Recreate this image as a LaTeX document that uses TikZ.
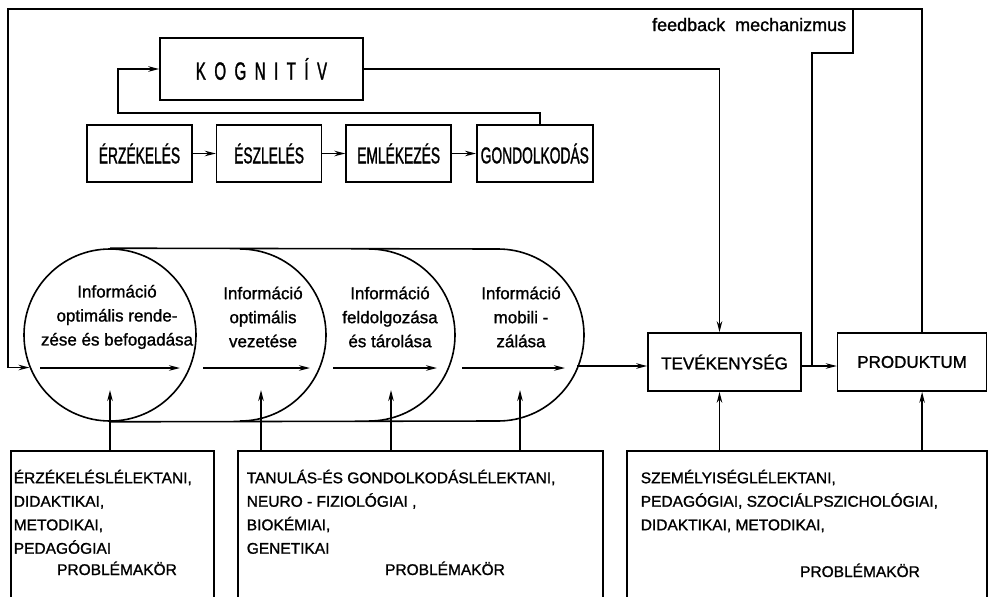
\documentclass[tikz,border=0pt]{standalone}
\usepackage{fontspec}
\setmainfont[FakeBold=1.2]{Liberation Sans}
\newfontfamily\handn[FakeStretch=0.6,FakeBold=1.2]{Liberation Sans}
\usetikzlibrary{positioning,calc}
\usetikzlibrary{arrows.meta}

\newcommand{\kg}{\hspace{8.5pt}}

\begin{document}
\begin{tikzpicture}[x=1pt,y=-1pt,
      line width=1.6pt,
      flow/.style = {-{Stealth[length=11pt,width=5.5pt]}},
      stage/.style = {draw, rectangle, inner sep=0pt, minimum width=105pt,
         minimum height=57pt, font=\handn\fontsize{23}{27}\selectfont},
      outbox/.style = {draw, rectangle, inner sep=0pt, minimum height=58pt,
         font=\fontsize{17}{20}\selectfont},
      field/.style = {draw, rectangle, inner sep=0pt, minimum height=170pt,
         anchor=north west},
      fieldtext/.style = {inner sep=0pt, anchor=north west, align=left,
         font=\fontsize{15.5}{23.5}\selectfont},
      info/.style = {inner sep=0pt, align=center,
         font=\fontsize{17}{24}\selectfont}
]

   \clip (0,0) rectangle (988,597);

   % kognitiv block
   \node[draw, inner sep=0pt, minimum width=203pt, minimum height=62pt,
      font=\handn\fontsize{25}{28}\selectfont] (kog) at (261.5,69)
      {K\kg O\kg G\kg N\kg I\kg T\kg Í\kg V};

   \node[stage]                                    (erz) at (139.5,153.5) {ÉRZÉKELÉS};
   \node[stage, right=23pt of erz]                 (esz) {ÉSZLELÉS};
   \node[stage, right=23pt of esz]                 (eml) {EMLÉKEZÉS};
   \node[stage, right=24pt of eml, minimum width=116pt] (gon) {GONDOLKODÁS};

   \draw[flow] (erz) -- (esz);
   \draw[flow] (esz) -- (eml);
   \draw[flow] (eml) -- (gon);

   \coordinate (loop) at (118,113);
   \draw[flow] ([xshift=5pt]gon.north) |- (loop) |- (kog.west);

   % activity and product
   \node[outbox, minimum width=153pt]                 (tev) at (724.5,362) {TEVÉKENYSÉG};
   \node[outbox, minimum width=149pt, right=35pt of tev] (prod) {PRODUKTUM};

   \draw[flow] (kog.east) -| ([xshift=-5pt]tev.north);

   % information cylinder
   \node[circle, draw, inner sep=0pt, minimum size=172pt] (c1) at (110,335) {};
   \draw (c1.north) -- (498,249);
   \draw (c1.south) -- (498,421);
   \foreach \cx in {240,369,498}
      \draw (\cx,249) arc (-90:90:86);

   \node[info] (inf1) at (117,317) {Információ\\optimális rende-\\zése és befogadása};
   \node[info] (inf2) at (263,317) {Információ\\optimális\\vezetése};
   \node[info] (inf3) at (390,317) {Információ\\feldolgozása\\és tárolása};
   \node[info] (inf4) at (521,317) {Információ\\mobili -\\zálása};

   \foreach \a/\b in {40/180, 203/310, 333/437, 462/565}
      \draw[flow] (\a,368) -- (\b,368);

   \coordinate (cylout) at (577,366);
   \draw[flow] (cylout) -- (cylout -| tev.west);

   % feedback loop
   \coordinate (fbsplit) at (812,366);
   \coordinate (fbstep)  at (853,53);
   \coordinate (fbtop)   at (853,9);
   \coordinate (fbleft)  at (8,9);

   \draw[flow] (tev.east |- fbsplit) -- (prod.west |- fbsplit);
   \draw[flow] (fbsplit) |- (fbstep) -- (fbtop) -- (fbleft) |- (c1.202.6);
   \draw ([xshift=10pt]prod.north) |- (fbtop);

   \node[anchor=base east, inner sep=0pt, font=\fontsize{18}{20}\selectfont]
      (fblabel) at (847,31) {feedback\hspace{10pt}mechanizmus};

   % problem fields
   \node[field, minimum width=203pt] (b1) at (10,450) {};
   \node[field, minimum width=365pt] (b2) at (237,450) {};
   \node[field, minimum width=360pt] (b3) at (626,450) {};

   \node[fieldtext] (b1t) at (13,469)
      {ÉRZÉKELÉSLÉLEKTANI,\\DIDAKTIKAI,\\METODIKAI,\\PEDAGÓGIAI};
   \node[fieldtext] (b2t) at (246,469)
      {TANULÁS-ÉS GONDOLKODÁSLÉLEKTANI,\\NEURO - FIZIOLÓGIAI ,\\BIOKÉMIAI,\\GENETIKAI};
   \node[fieldtext] (b3t) at (640,469)
      {SZEMÉLYISÉGLÉLEKTANI,\\PEDAGÓGIAI, SZOCIÁLPSZICHOLÓGIAI,\\DIDAKTIKAI, METODIKAI,};

   \node[anchor=base, inner sep=0pt, font=\fontsize{15.5}{18}\selectfont] (p1) at (117,575) {PROBLÉMAKÖR};
   \node[anchor=base, inner sep=0pt, font=\fontsize{15.5}{18}\selectfont] (p2) at (445,575) {PROBLÉMAKÖR};
   \node[anchor=base, inner sep=0pt, font=\fontsize{15.5}{18}\selectfont] (p3) at (860,577) {PROBLÉMAKÖR};

   % inputs from the fields
   \draw[flow] (c1.south |- b1.north) -- (c1.south |- 0,390);
   \foreach \x in {261,391,520}
      \draw[flow] (\x,0 |- b2.north) -- (\x,390);
   \draw[flow] ([xshift=-5pt]tev.south |- b3.north) -- ([xshift=-5pt]tev.south);
   \draw[flow] ([xshift=10pt]prod.south |- b3.north) -- ([xshift=10pt]prod.south);

\end{tikzpicture}
\end{document}
